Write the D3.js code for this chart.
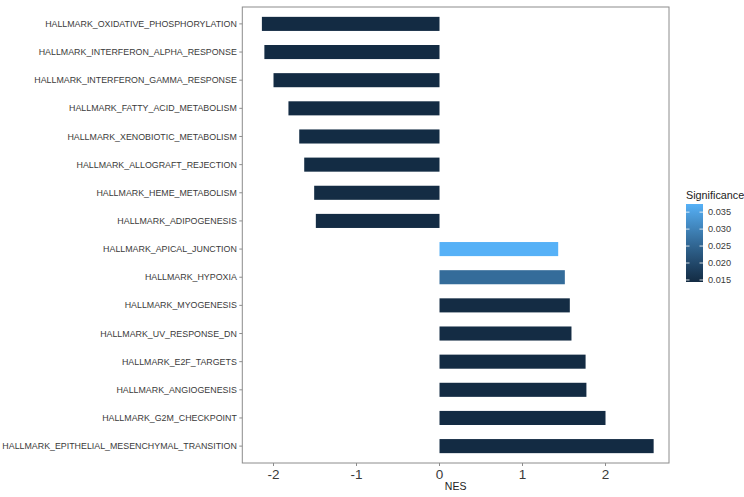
<!DOCTYPE html>
<html><head><meta charset="utf-8">
<script src="https://cdn.jsdelivr.net/npm/d3@7"></script>
<style>body{margin:0;background:#fff}svg{display:block;font-family:"Liberation Sans",Arial,sans-serif}</style>
</head><body><svg id="c" width="744" height="497"></svg>
<script>
const pathways = [
  "HALLMARK_OXIDATIVE_PHOSPHORYLATION","HALLMARK_INTERFERON_ALPHA_RESPONSE","HALLMARK_INTERFERON_GAMMA_RESPONSE",
  "HALLMARK_FATTY_ACID_METABOLISM","HALLMARK_XENOBIOTIC_METABOLISM","HALLMARK_ALLOGRAFT_REJECTION",
  "HALLMARK_HEME_METABOLISM","HALLMARK_ADIPOGENESIS","HALLMARK_APICAL_JUNCTION","HALLMARK_HYPOXIA",
  "HALLMARK_MYOGENESIS","HALLMARK_UV_RESPONSE_DN","HALLMARK_E2F_TARGETS","HALLMARK_ANGIOGENESIS",
  "HALLMARK_G2M_CHECKPOINT","HALLMARK_EPITHELIAL_MESENCHYMAL_TRANSITION"];
const nes = [-2.14,-2.11,-2.00,-1.82,-1.69,-1.63,-1.51,-1.49,1.43,1.51,1.57,1.59,1.76,1.77,2.00,2.58];
const significance = [0.0144,0.0144,0.0144,0.0144,0.0145,0.0145,0.0146,0.0146,0.0374,0.0262,0.0146,0.0146,0.0144,0.0144,0.0144,0.0144];
const xTicks = [-2,-1,0,1,2];
const legendTicks = [0.015,0.020,0.025,0.030,0.035];

const svg = d3.select("#c");
const P = {l:242.3, r:669, t:7, b:463};
const x = d3.scaleLinear().domain([-2.376, 2.765]).range([P.l, P.r]);
// ggplot discrete expansion 0.6 units each side
const y = d3.scalePoint().domain(pathways).range([P.t, P.b]).padding(0.6);
const step = y.step();
const barH = step*0.5;
const sExt = d3.extent(significance);
const col = d3.scaleLinear().domain(sExt).range(["#132B43","#56B1F7"]).interpolate(d3.interpolateLab);

svg.selectAll("rect.bar").data(pathways).enter().append("rect")
  .attr("x", (d,i)=>Math.min(x(0), x(nes[i])))
  .attr("width", (d,i)=>Math.abs(x(nes[i])-x(0)))
  .attr("y", d=>y(d)-barH/2).attr("height", barH)
  .attr("fill", (d,i)=>col(significance[i]));

svg.append("rect").attr("x",P.l).attr("y",P.t).attr("width",P.r-P.l).attr("height",P.b-P.t)
  .attr("fill","none").attr("stroke","#8c8c8c").attr("stroke-width",1);

// y axis
const ya = svg.append("g");
pathways.forEach(d=>{
  ya.append("line").attr("x1",P.l-3).attr("x2",P.l).attr("y1",y(d)).attr("y2",y(d)).attr("stroke","#8c8c8c");
  ya.append("text").attr("x",P.l-5.5).attr("y",y(d)).attr("dy","0.35em").attr("text-anchor","end")
    .attr("font-size",8.85).attr("fill","#3a3a3a").text(d);
});
// x axis
const xa = svg.append("g");
xTicks.forEach(t=>{
  xa.append("line").attr("x1",x(t)).attr("x2",x(t)).attr("y1",P.b).attr("y2",P.b+3).attr("stroke","#8c8c8c");
  xa.append("text").attr("x",x(t)).attr("y",P.b+16).attr("text-anchor","middle").attr("font-size",13.5).attr("fill","#3a3a3a").text(String(t));
});
svg.append("text").attr("x",(P.l+P.r)/2).attr("y",490).attr("text-anchor","middle").attr("font-size",10.5).attr("fill","#222").text("NES");

// legend
const L = {x:686, w:17, top:204, bot:282};
const ly = d3.scaleLinear().domain(sExt).range([L.bot, L.top]);
const defs = svg.append("defs");
const g = defs.append("linearGradient").attr("id","lg").attr("x1",0).attr("x2",0).attr("y1",1).attr("y2",0);
d3.range(0,1.0001,0.1).forEach(f=>g.append("stop").attr("offset",f).attr("stop-color",col(sExt[0]+f*(sExt[1]-sExt[0]))));
svg.append("rect").attr("x",L.x).attr("y",L.top).attr("width",L.w).attr("height",L.bot-L.top).attr("fill","url(#lg)");
legendTicks.forEach(t=>{
  const yy = ly(t);
  svg.append("line").attr("x1",L.x).attr("x2",L.x+3.5).attr("y1",yy).attr("y2",yy).attr("stroke","#fff").attr("stroke-opacity",0.8);
  svg.append("line").attr("x1",L.x+L.w-3.5).attr("x2",L.x+L.w).attr("y1",yy).attr("y2",yy).attr("stroke","#fff").attr("stroke-opacity",0.8);
  svg.append("text").attr("x",L.x+L.w+5).attr("y",yy).attr("dy","0.35em").attr("font-size",9.2).attr("fill","#3a3a3a").text(d3.format(".3f")(t));
});
svg.append("text").attr("x",L.x).attr("y",199).attr("font-size",10.8).attr("fill","#222").text("Significance");
</script></body></html>
